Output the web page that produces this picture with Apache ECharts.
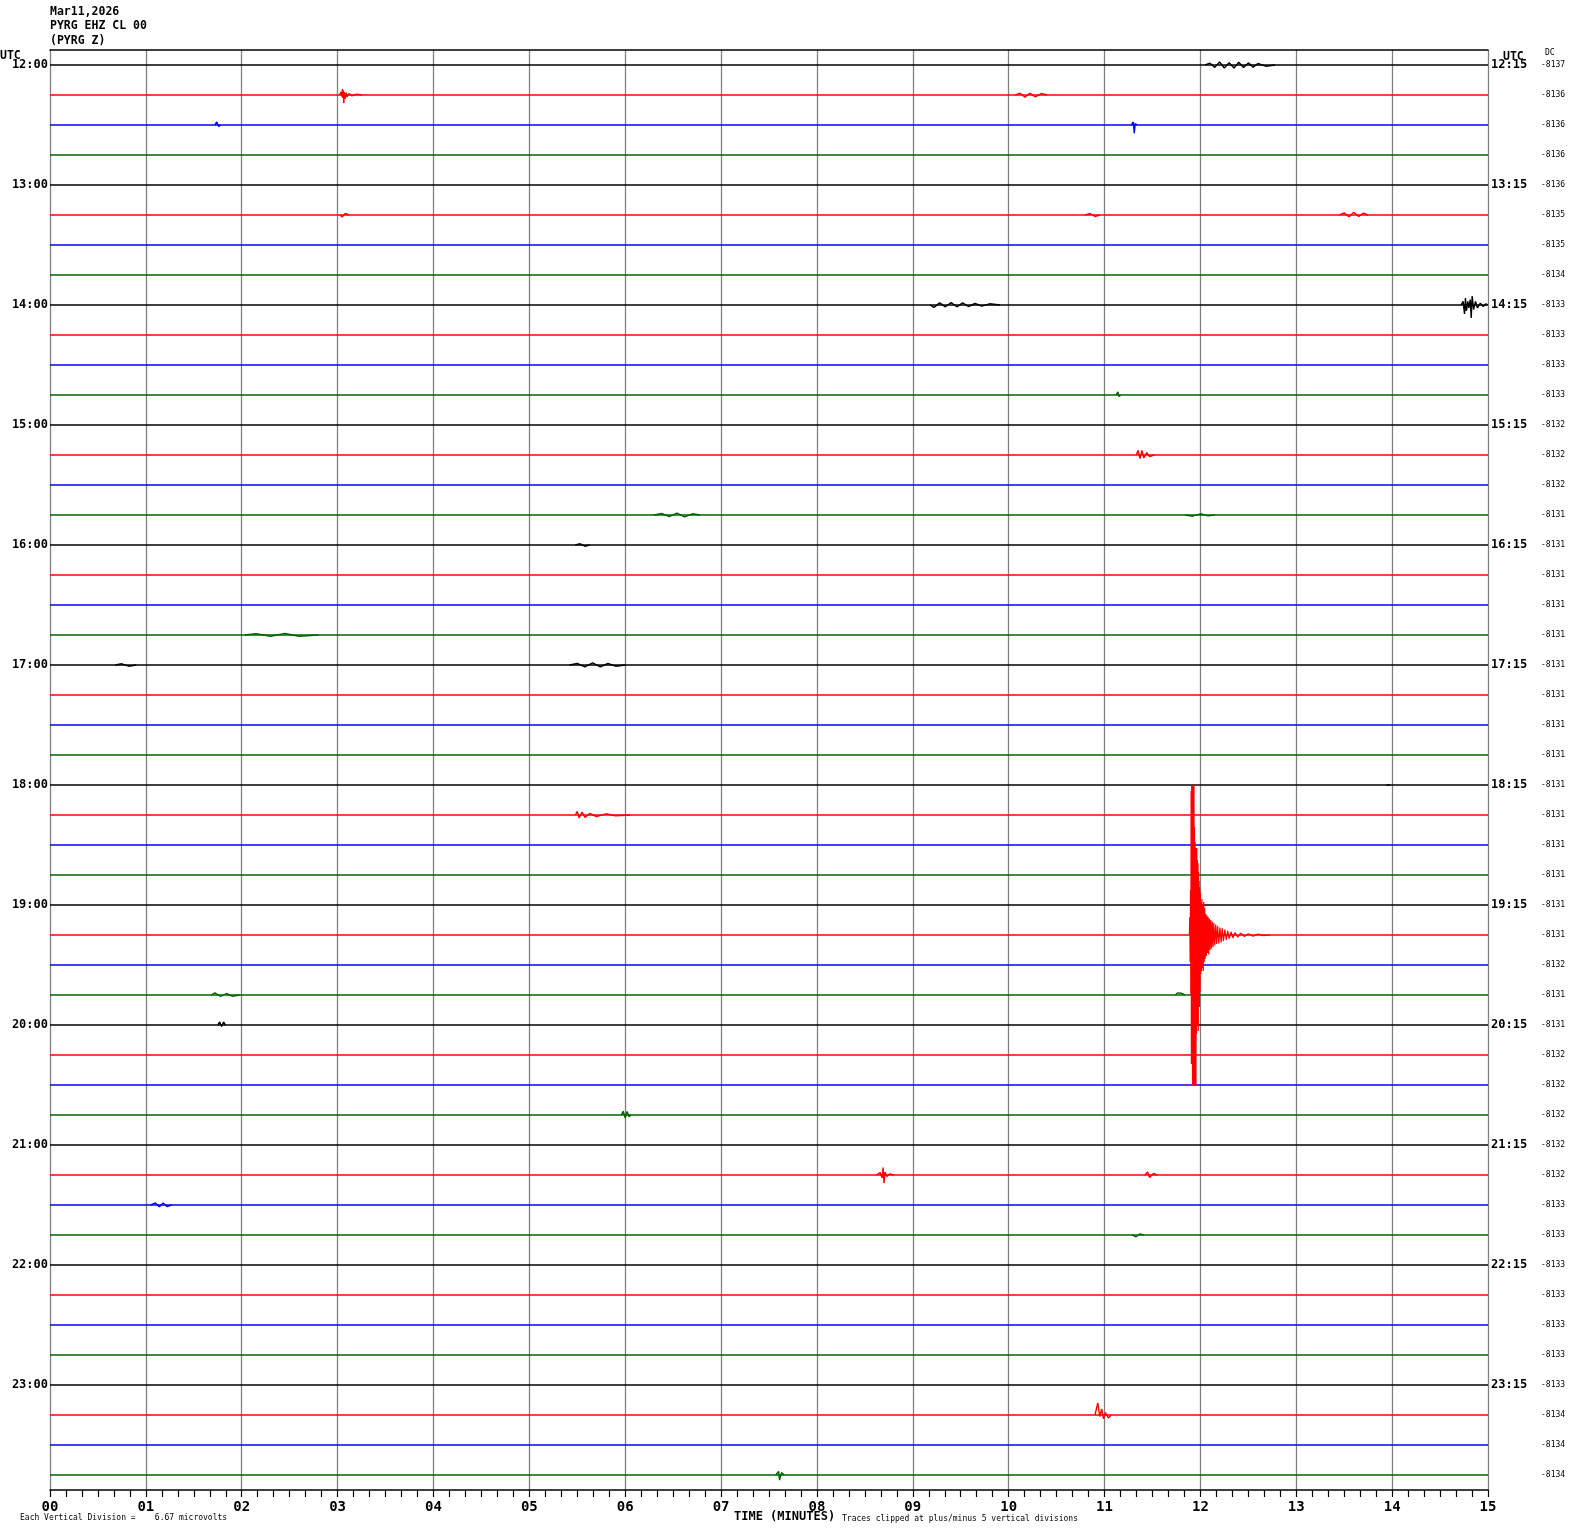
<!DOCTYPE html>
<html><head><meta charset="utf-8">
<script src="https://cdn.jsdelivr.net/npm/echarts@6/dist/echarts.min.js"></script>
<style>html,body{margin:0;padding:0;background:#fff}#c{width:1570px;height:1534px}</style>
</head><body><div id="c"></div>
<script>
// ---- data ----
const xTickLabels = ['00','01','02','03','04','05','06','07','08','09','10','11','12','13','14','15'];
const leftLabels = ['12:00','','','','13:00','','','','14:00','','','','15:00','','','','16:00','','','','17:00','','','','18:00','','','','19:00','','','','20:00','','','','21:00','','','','22:00','','','','23:00','','',''];
const rightLabels = ['12:15','','','','13:15','','','','14:15','','','','15:15','','','','16:15','','','','17:15','','','','18:15','','','','19:15','','','','20:15','','','','21:15','','','','22:15','','','','23:15','','',''];
const dcValues = [-8137,-8136,-8136,-8136,-8136,-8135,-8135,-8134,-8133,-8133,-8133,-8133,-8132,-8132,-8132,-8131,-8131,-8131,-8131,-8131,-8131,-8131,-8131,-8131,
  -8131,-8131,-8131,-8131,-8131,-8131,-8132,-8131,-8131,-8132,-8132,-8132,-8132,-8132,-8133,-8133,-8133,-8133,-8133,-8133,-8133,-8134,-8134,-8134];
const traceColors = ['#000000','#ff0000','#0000ff','#006400'];

// events: [minute, amplitude in vertical divisions (up positive)]
const ev00 = [[12.05,0],[12.1,0.06],[12.15,-0.08],[12.2,0.1],[12.25,-0.1],[12.3,0.08],[12.35,-0.1],[12.4,0.09],[12.45,-0.08],[12.5,0.07],[12.55,-0.07],[12.6,0.05],[12.68,-0.04],[12.78,0]];
const ev01a = [[3.02,0],[3.035,0.1],[3.045,-0.05],[3.05,0.2],[3.055,-0.1],[3.06,0.15],[3.065,-0.27],[3.07,0.1],[3.08,-0.12],[3.09,0.08],[3.1,-0.06],[3.12,0.05],[3.15,-0.03],[3.2,0.03],[3.25,0]];
const ev01b = [[10.07,0],[10.12,0.06],[10.17,-0.07],[10.22,0.06],[10.28,-0.06],[10.34,0.05],[10.4,0]];
const ev02a = [[1.72,0],[1.74,0.1],[1.76,-0.05],[1.78,0]];
const ev02b = [[11.28,0],[11.3,0.1],[11.31,-0.27],[11.32,0.05],[11.34,0]];
const ev05a = [[3.02,0],[3.05,-0.06],[3.08,0.05],[3.12,0]];
const ev05b = [[10.8,0],[10.85,0.05],[10.9,-0.05],[10.95,0]];
const ev05c = [[13.45,0],[13.5,0.07],[13.55,-0.06],[13.6,0.09],[13.65,-0.05],[13.7,0.06],[13.75,0]];
const ev08a = [[9.18,0],[9.22,-0.08],[9.28,0.07],[9.34,-0.06],[9.4,0.08],[9.46,-0.06],[9.52,0.07],[9.58,-0.05],[9.65,0.05],[9.72,-0.04],[9.8,0.04],[9.91,0]];
const ev08b = [[14.72,0],[14.74,0.12],[14.755,-0.3],[14.765,0.23],[14.775,-0.2],[14.79,0.12],[14.8,-0.1],[14.815,0.18],[14.825,-0.43],[14.835,0.3],[14.85,-0.15],[14.87,0.12],[14.89,-0.1],[14.92,0.06],[14.95,-0.05],[14.98,0.04],[14.995,0]];
const ev11 = [[11.12,0],[11.14,0.1],[11.15,-0.05],[11.17,0]];
const ev13 = [[11.33,0],[11.35,0.15],[11.37,-0.12],[11.39,0.15],[11.41,-0.1],[11.44,0.08],[11.47,-0.05],[11.52,0]];
const ev15a = [[6.3,0],[6.38,0.05],[6.46,-0.05],[6.54,0.06],[6.62,-0.06],[6.7,0.04],[6.78,0]];
const ev15b = [[11.84,0],[11.92,-0.04],[12.0,0.04],[12.08,-0.03],[12.15,0]];
const ev16 = [[5.48,0],[5.53,0.04],[5.58,-0.04],[5.63,0]];
const ev19 = [[2.03,0],[2.15,0.04],[2.3,-0.04],[2.45,0.05],[2.6,-0.04],[2.8,0]];
const ev20a = [[0.68,0],[0.75,0.04],[0.82,-0.04],[0.9,0]];
const ev20b = [[5.42,0],[5.5,0.05],[5.58,-0.06],[5.66,0.07],[5.74,-0.06],[5.82,0.05],[5.9,-0.04],[6.0,0]];
const ev24 = [[13.94,0],[13.96,-0.06],[13.98,0]];
const ev25 = [[5.48,0],[5.5,0.12],[5.52,-0.1],[5.55,0.1],[5.58,-0.08],[5.63,0.05],[5.7,-0.05],[5.8,0.04],[5.9,-0.03],[6.05,0]];
const quake29 = [[11.885,0],[11.889,0.6],[11.893,-0.9],[11.897,1.5],[11.900,-2.0],[11.903,4.8],[11.906,-4.3],[11.909,5],[11.912,-3.5],[11.915,5],[11.918,-5],[11.921,4.2],[11.924,-5],[11.927,5],[11.930,-4.6],[11.933,5],[11.936,-5],[11.939,3.6],[11.942,-5],[11.945,3.1],[11.948,-4.5],[11.951,2.9],[11.954,-5],[11.957,2.8],[11.960,-3.3],[11.963,2.9],[11.966,-3.0],[11.969,2.5],[11.972,-2.8],[11.975,2.4],[11.978,-3.2],[11.981,2.1],[11.984,-2.2],[11.987,1.8],[11.990,-2.4],[11.993,1.6],[11.996,-1.9],[12.000,1.4],[12.004,-1.3],[12.008,1.1],[12.012,-1.2],[12.016,1.2],[12.020,-1.1],[12.025,1.0],[12.030,-1.2],[12.035,1.1],[12.040,-0.9],[12.045,0.9],[12.050,-0.8],[12.056,0.7],[12.062,-0.7],[12.068,0.65],[12.074,-0.6],[12.080,0.6],[12.087,-0.65],[12.094,0.55],[12.101,-0.5],[12.108,0.5],[12.116,-0.45],[12.124,0.45],[12.132,-0.4],[12.140,0.4],[12.150,-0.35],[12.160,0.35],[12.170,-0.3],[12.180,0.3],[12.192,-0.28],[12.204,0.25],[12.216,-0.25],[12.228,0.22],[12.24,-0.2],[12.255,0.18],[12.27,-0.16],[12.285,0.14],[12.30,-0.12],[12.32,0.1],[12.34,-0.1],[12.36,0.08],[12.39,-0.07],[12.42,0.06],[12.46,-0.05],[12.5,0.04],[12.55,-0.04],[12.6,0.03],[12.66,-0.02],[12.73,0]];
const ev31a = [[1.68,0],[1.72,0.07],[1.78,-0.05],[1.84,0.05],[1.9,-0.04],[1.98,0]];
const ev31b = [[11.74,0],[11.76,0.07],[11.8,0.06],[11.84,0]];
const ev32 = [[1.75,0],[1.77,0.1],[1.79,-0.05],[1.81,0.1],[1.83,0]];
const ev35 = [[5.96,0],[5.98,0.13],[6.0,-0.1],[6.02,0.12],[6.04,-0.06],[6.06,0]];
const ev37a = [[8.62,0],[8.66,0.08],[8.68,-0.1],[8.69,0.25],[8.70,-0.27],[8.71,0.1],[8.73,-0.05],[8.76,0.04],[8.8,0]];
const ev37b = [[11.42,0],[11.45,0.1],[11.47,-0.08],[11.49,-0.13],[11.51,0.05],[11.55,0]];
const ev38 = [[1.05,0],[1.1,0.07],[1.14,-0.06],[1.18,0.07],[1.22,-0.05],[1.27,0]];
const ev39 = [[11.29,0],[11.33,-0.06],[11.37,0.04],[11.41,0]];
const ev45 = [[10.9,0],[10.93,0.4],[10.95,-0.05],[10.97,0.2],[10.99,-0.13],[11.01,0.08],[11.04,-0.1],[11.07,0]];
const ev47 = [[7.57,0],[7.6,0.12],[7.61,-0.17],[7.63,0.08],[7.66,0]];

const eventList = [[0,ev00],[1,ev01a],[1,ev01b],[2,ev02a],[2,ev02b],[5,ev05a],[5,ev05b],[5,ev05c],[8,ev08a],[8,ev08b],[11,ev11],[13,ev13],[15,ev15a],[15,ev15b],[16,ev16],[19,ev19],[20,ev20a],[20,ev20b],[24,ev24],[25,ev25],[29,quake29],[31,ev31a],[31,ev31b],[32,ev32],[35,ev35],[37,ev37a],[37,ev37b],[38,ev38],[39,ev39],[45,ev45],[47,ev47]];

// ---- build ----
const N = leftLabels.length;
const LW = 1.4;
const series = [];
for (let i = 0; i < N; i++) {
  series.push({
    type:'line', xAxisIndex:0, yAxisIndex:0, showSymbol:false, symbol:'none',
    animation:false, silent:true, z:2,
    lineStyle:{color:traceColors[i%4], width:LW},
    data: [[0, i], [15, i]]
  });
}
eventList.forEach(e => {
  const i = e[0];
  series.push({
    type:'line', xAxisIndex:0, yAxisIndex:0, showSymbol:false, symbol:'none',
    animation:false, silent:true, z:(i===29?4:3),
    lineStyle:{color:traceColors[i%4], width:(i===29?1.2:LW)},
    data: e[1].map(p => [p[0], i - p[1]])
  });
});
const mono = '"DejaVu Sans Mono", "Liberation Mono", monospace';
const chart = echarts.init(document.getElementById('c'), null, {renderer:'canvas'});
chart.setOption({
  backgroundColor:'#ffffff',
  animation:false,
  grid:{left:50, right:82, top:50, bottom:44, containLabel:false},
  xAxis:[{
    type:'value', min:0, max:15, interval:1, position:'bottom',
    axisLine:{show:true, onZero:false, lineStyle:{color:'#000', width:1.5}},
    axisTick:{show:true, length:7, lineStyle:{color:'#000', width:1.2}},
    minorTick:{show:true, splitNumber:6, length:7, lineStyle:{color:'#000', width:1.2}},
    splitLine:{show:true, lineStyle:{color:'#808080', width:1.3}},
    minorSplitLine:{show:false},
    axisLabel:{formatter:(v)=>xTickLabels[Math.round(v)], margin:10, color:'#000', fontFamily:mono, fontWeight:'bold', fontSize:14}
  },{
    type:'value', min:0, max:15, position:'top',
    axisLine:{show:true, onZero:false, lineStyle:{color:'#000', width:1.5}},
    axisTick:{show:false}, minorTick:{show:false}, axisLabel:{show:false}, splitLine:{show:false}
  }],
  yAxis:[{
    type:'value', min:-0.5, max:47.5, inverse:true, show:false
  },{
    type:'category', data:leftLabels, position:'left', inverse:true,
    axisLine:{show:false}, axisTick:{show:false}, splitLine:{show:false},
    axisLabel:{interval:0, margin:2, padding:[3,0,0,0], color:'#000', fontFamily:mono, fontWeight:'bold', fontSize:12}
  },{
    type:'category', data:rightLabels, position:'right', inverse:true,
    axisLine:{show:false}, axisTick:{show:false}, splitLine:{show:false},
    axisLabel:{interval:0, margin:3, padding:[4,0,0,0], color:'#000', fontFamily:mono, fontWeight:'bold', fontSize:12}
  },{
    type:'category', data:dcValues.map(String), position:'right', offset:52, inverse:true,
    axisLine:{show:false}, axisTick:{show:false}, splitLine:{show:false},
    axisLabel:{interval:0, margin:1, padding:[2,0,0,0], color:'#000', fontFamily:mono, fontSize:8}
  }],
  graphic:[
    {type:'text', left:50, top:6, style:{text:'Mar11,2026', font:'bold 11.5px '+mono, fill:'#000'}},
    {type:'text', left:50, top:20, style:{text:'PYRG EHZ CL 00', font:'bold 11.5px '+mono, fill:'#000'}},
    {type:'text', left:50, top:35, style:{text:'(PYRG Z)', font:'bold 11.5px '+mono, fill:'#000'}},
    {type:'text', left:0, top:50, style:{text:'UTC', font:'bold 11.5px '+mono, fill:'#000'}},
    {type:'text', left:1503, top:51, style:{text:'UTC', font:'bold 11.5px '+mono, fill:'#000'}},
    {type:'text', left:1545, top:49, style:{text:'DC', font:'8px '+mono, fill:'#000'}},
    {type:'text', left:20, top:1514, style:{text:'Each Vertical Division =    6.67 microvolts', font:'8px '+mono, fill:'#000'}},
    {type:'text', left:734, top:1511, style:{text:'TIME (MINUTES)', font:'bold 12px '+mono, fill:'#000'}},
    {type:'text', left:842, top:1515, style:{text:'Traces clipped at plus/minus 5 vertical divisions', font:'8px '+mono, fill:'#000'}}
  ],
  series: series
});
</script></body></html>
